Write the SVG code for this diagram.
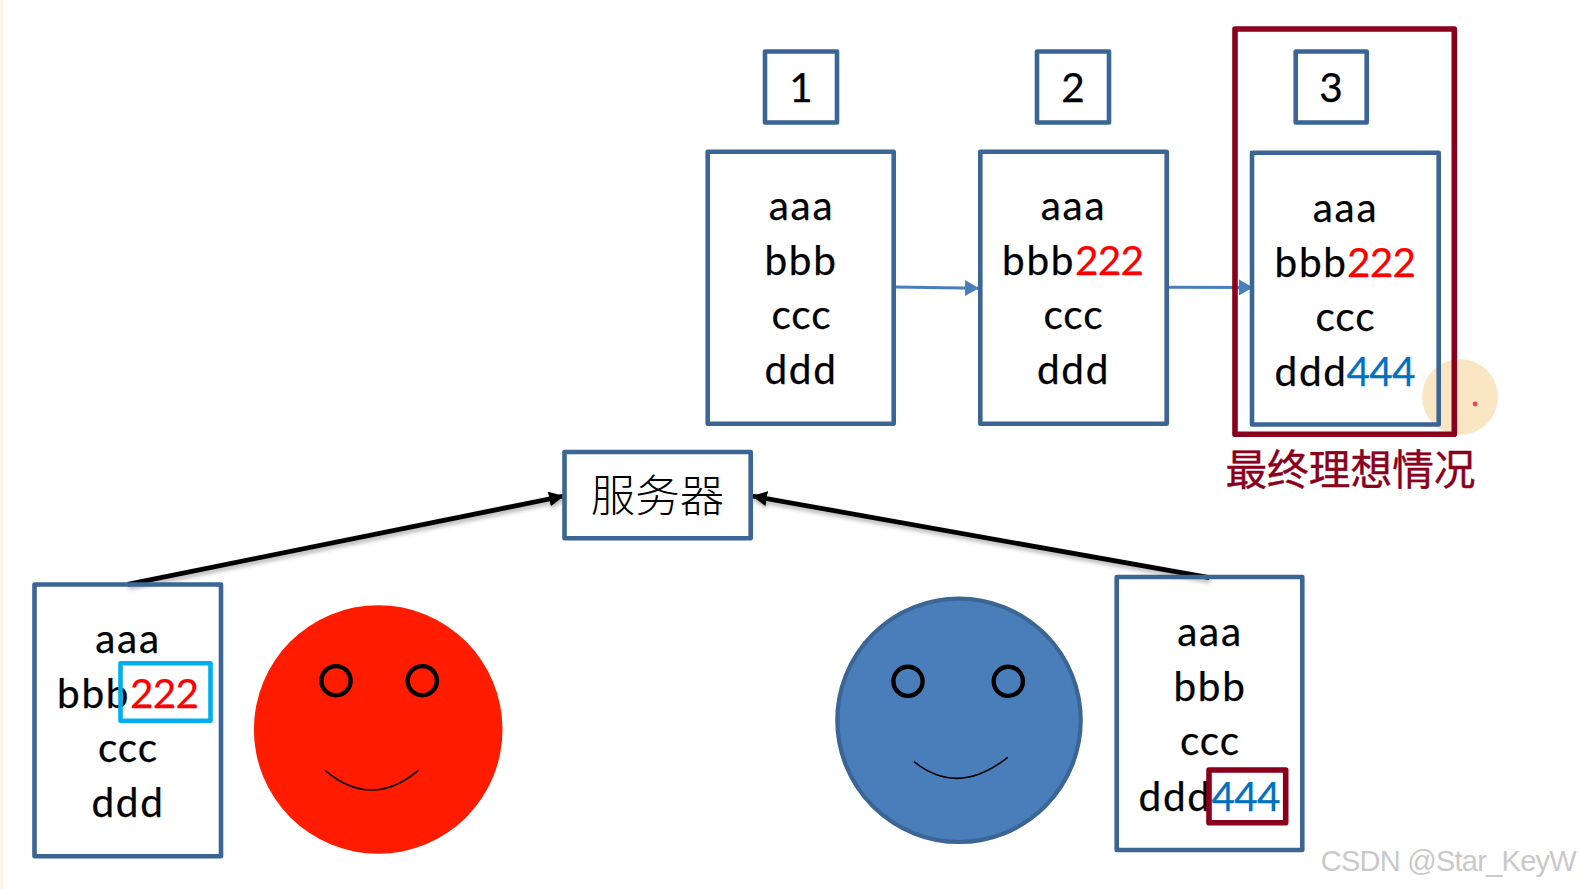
<svg xmlns="http://www.w3.org/2000/svg" width="1581" height="889" viewBox="0 0 1581 889">
<style>
.box{fill:none;stroke:#3A6595;stroke-width:4.6;stroke-linejoin:round}
.dr{fill:none;stroke:#8A001C;stroke-width:5.6;stroke-linejoin:round}
.t{font-family:"Lato","Carlito","Liberation Sans",sans-serif;font-size:40.5px;fill:#000;stroke:#000;stroke-width:.25}
.l{letter-spacing:1.7px}
.c{letter-spacing:.9px}
.m{text-anchor:middle}
.r{fill:#FF0000;stroke:#FF0000;letter-spacing:-.7px}
.b{fill:#0070C0;stroke:#0070C0;letter-spacing:-.7px}
.eye{fill:none;stroke:#000;stroke-width:4.4}
.smile{fill:none;stroke:#000;stroke-width:1.6}
.cjk{font-family:"Noto Sans CJK SC",sans-serif}
</style>
<defs>
<marker id="ab" markerUnits="userSpaceOnUse" markerWidth="14" markerHeight="16" refX="14" refY="8" orient="auto"><path d="M0 0L14 8L0 16Z" fill="#4A7EBB"/></marker>
<marker id="ak" markerUnits="userSpaceOnUse" markerWidth="15" markerHeight="15" refX="15" refY="7.5" orient="auto"><path d="M0 0L15 7.5L0 15Z" fill="#000"/></marker>
<filter id="sh" x="-5%" y="-30%" width="110%" height="170%"><feDropShadow dx="1" dy="3" stdDeviation="2" flood-color="#000" flood-opacity="0.3"/></filter>
</defs>
<rect width="1581" height="889" fill="#FFFFFF"/>
<rect width="3" height="889" fill="#FAF6E8"/>
<g id="pointer"><circle cx="1460" cy="397" r="38" fill="#FBE6C4"/><circle cx="1475" cy="404" r="2.4" fill="#F04545"/></g>

<g id="connectors">
<line x1="894" y1="287" x2="979" y2="288.3" stroke="#4A7EBB" stroke-width="3" marker-end="url(#ab)"/>
<line x1="1169" y1="287.3" x2="1253" y2="287.5" stroke="#4A7EBB" stroke-width="3" marker-end="url(#ab)"/>
<g filter="url(#sh)">
<line x1="127.7" y1="584.3" x2="564" y2="496" stroke="#000" stroke-width="4.8" marker-end="url(#ak)"/>
<line x1="1209.3" y1="577.7" x2="752" y2="496" stroke="#000" stroke-width="4.8" marker-end="url(#ak)"/>
</g>
</g>

<g id="label-1"><rect class="box" x="765" y="51.5" width="72" height="71"/><text class="t m" x="801" y="102">1</text></g>
<g id="label-2"><rect class="box" x="1037" y="51.5" width="72" height="71"/><text class="t m" x="1073" y="102">2</text></g>
<g id="label-3"><rect class="box" x="1295.7" y="51.5" width="71" height="71"/><text class="t m" x="1331" y="102">3</text></g>

<g id="state-1"><rect class="box" x="707.7" y="151.7" width="186" height="272"/>
<text class="t m l" x="801.5" y="220">aaa</text><text class="t m l" x="801" y="275">bbb</text><text class="t m c" x="801.5" y="329">ccc</text><text class="t m l" x="801" y="384">ddd</text></g>

<g id="state-2"><rect class="box" x="980.3" y="151.7" width="186.4" height="272"/>
<text class="t m l" x="1073.5" y="220">aaa</text><text class="t l" x="1002" y="275">bbb<tspan class="r" x="1075">222</tspan></text><text class="t m c" x="1073.5" y="329">ccc</text><text class="t m l" x="1073.5" y="384">ddd</text></g>

<g id="state-3"><rect class="box" x="1252" y="152.7" width="186.7" height="271.8"/>
<text class="t m l" x="1345.5" y="222">aaa</text><text class="t l" x="1274.5" y="277">bbb<tspan class="r" x="1347">222</tspan></text><text class="t m c" x="1345.5" y="331">ccc</text><text class="t l" x="1274.5" y="386">ddd<tspan class="b" x="1346.5">444</tspan></text></g>

<g id="ideal"><rect class="dr" x="1235" y="29" width="219.3" height="405.3"/>
<text class="cjk" x="1350.5" y="485" text-anchor="middle" font-size="41.7" fill="#8A001C" stroke="#8A001C" stroke-width=".4">最终理想情况</text></g>

<g id="server"><rect class="box" x="564.5" y="452" width="186.2" height="86.3"/>
<text class="cjk" x="657.5" y="512" text-anchor="middle" font-size="44.5" font-weight="300" fill="#000">服务器</text></g>

<g id="client-a"><rect class="box" x="34.5" y="584.5" width="186.5" height="271.8"/>
<text class="t m l" x="128" y="652.5">aaa</text><text class="t l" x="57" y="708">bbb<tspan class="r" x="130">222</tspan></text><text class="t m c" x="128" y="761.5">ccc</text><text class="t m l" x="128" y="816.5">ddd</text>
<rect x="120.5" y="663.3" width="90" height="57.4" fill="none" stroke="#00AEEF" stroke-width="4.6" stroke-linejoin="round"/></g>

<g id="face-red"><circle cx="378.2" cy="729.5" r="124.3" fill="#FF1C00"/>
<circle class="eye" cx="336" cy="680.7" r="14.6"/><circle class="eye" cx="422.3" cy="680.7" r="14.6"/>
<path class="smile" d="M325 770.3Q371.7 809.7 418.3 770.3"/></g>

<g id="face-blue"><circle cx="959" cy="720.3" r="121.7" fill="#4A7EBB" stroke="#3A6595" stroke-width="4.2"/>
<circle class="eye" cx="908" cy="681.3" r="14.6"/><circle class="eye" cx="1008.3" cy="681.3" r="14.6"/>
<path class="smile" d="M914 761.7Q958 797 1007.7 757.3"/></g>

<g id="client-b"><rect class="box" x="1116.7" y="577" width="185.6" height="273"/>
<text class="t m l" x="1210" y="646">aaa</text><text class="t m l" x="1210" y="701">bbb</text><text class="t m c" x="1210" y="755">ccc</text><text class="t l" x="1138.5" y="810.5">ddd<tspan class="b" x="1211.5">444</tspan></text>
<rect class="dr" x="1209" y="770" width="76.7" height="52.7"/></g>

<text x="1320.7" y="871" font-family="Liberation Sans,sans-serif" font-size="29" fill="#C9C9C9" textLength="256">CSDN @Star_KeyW</text>
</svg>
